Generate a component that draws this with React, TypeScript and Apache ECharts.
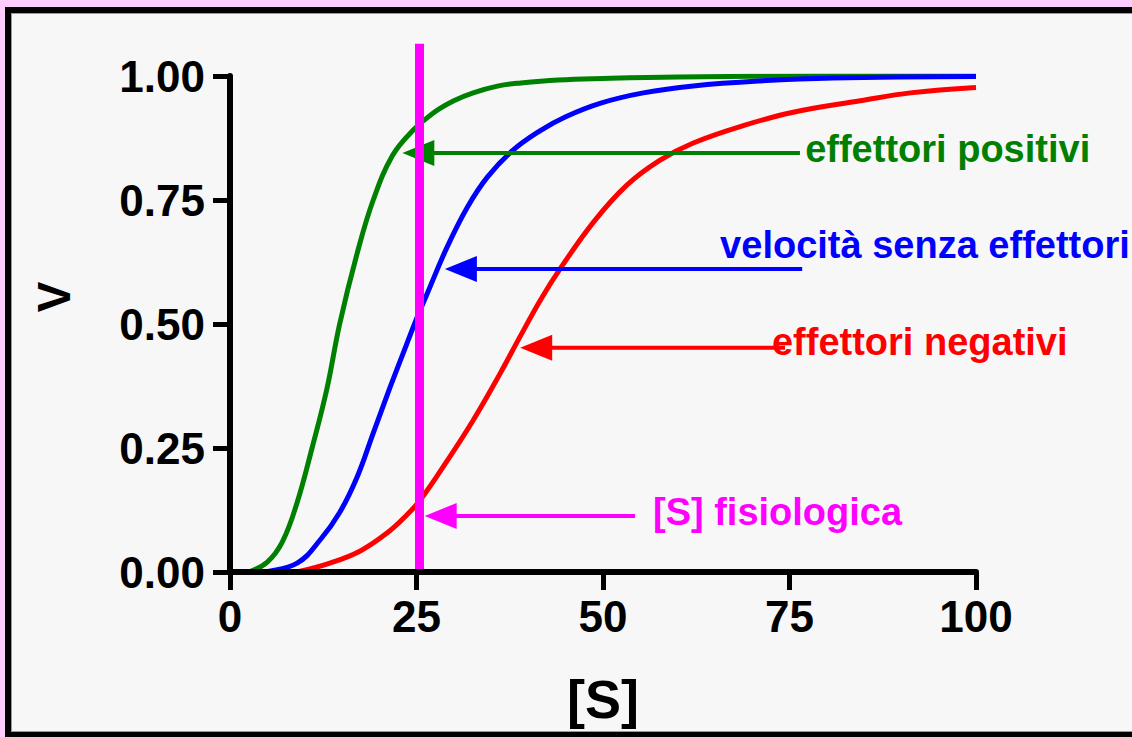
import React, { useEffect, useRef } from "react";
import * as echarts from "echarts";

// ---- data ----
const xTicks = [0, 25, 50, 75, 100];
const yTicks = [0, 0.25, 0.5, 0.75, 1];

const greenX = [2.5, 5, 7, 9, 11, 13, 14.7, 17, 19.2, 21.8, 24.5, 27.2, 30, 32.6, 36, 39, 44, 50, 60, 80, 100];
const greenY = [0, 0.02, 0.06, 0.14, 0.25, 0.37, 0.5, 0.64, 0.75, 0.84, 0.89, 0.925, 0.95, 0.966, 0.98, 0.986, 0.992, 0.995, 0.998, 1.0, 1.0];

const blueX = [4.5, 9, 12.1, 14.7, 17, 19.2, 21.4, 23.7, 25, 26.4, 29.1, 31.8, 34.5, 37.9, 41.6, 45, 49.6, 55.4, 62.1, 71, 80.8, 100];
const blueY = [0, 0.018, 0.065, 0.12, 0.19, 0.28, 0.37, 0.46, 0.51, 0.56, 0.655, 0.735, 0.796, 0.85, 0.89, 0.918, 0.945, 0.966, 0.98, 0.99, 0.996, 0.999];

const redX = [9, 13.4, 17.4, 21, 23.7, 25.5, 29.1, 32.6, 36.2, 38.9, 41.6, 44.2, 48.7, 53.2, 57.6, 62.1, 68.8, 75.5, 84.5, 91.2, 100];
const redY = [0, 0.018, 0.042, 0.078, 0.115, 0.145, 0.224, 0.306, 0.4, 0.475, 0.548, 0.61, 0.705, 0.78, 0.83, 0.865, 0.9, 0.927, 0.95, 0.966, 0.977];

const physioS = 25.4;
const physioLineY = [0, 1.065];

const annotLabels = ["effettori positivi", "velocità senza effettori", "effettori negativi", "[S] fisiologica"];
const annotColors = ["#008000", "#0000ff", "#ff0000", "#ff00ff"];
const arrowY = [0.845, 0.611, 0.452, 0.113];
const arrowTipX = [23.1, 28.8, 38.9, 26.1];
const arrowTailX = [76.4, 76.7, 74.4, 54.3];
const labelX = [77.1, 65.7, 72.65, 56.7];
const labelY = [0.853, 0.659, 0.464, 0.121];

const zip = (xs: number[], ys: number[]) => xs.map((x, i) => [x, ys[i]]);

export default function App() {
  const ref = useRef<HTMLDivElement>(null);
  useEffect(() => {
    const chart = echarts.init(ref.current!, null, { renderer: "svg" });
    const font = "'Liberation Sans', Arial, Helvetica, sans-serif";
    const curve = (name: string, data: number[][], color: string) => ({
      name,
      type: "line",
      data,
      smooth: 0.4,
      showSymbol: false,
      symbol: "none",
      lineStyle: { color, width: 5 },
      z: 2,
    });
    chart.setOption({
      animation: false,
      backgroundColor: "#f7f7f7",
      grid: { left: 230, right: 156, top: 76, bottom: 165, containLabel: false },
      xAxis: {
        type: "value",
        min: xTicks[0],
        max: xTicks[xTicks.length - 1],
        interval: xTicks[1] - xTicks[0],
        z: 10,
        name: "[S]",
        nameLocation: "middle",
        nameGap: 100,
        nameTextStyle: { fontFamily: font, fontWeight: "bold", fontSize: 54, color: "#000" },
        axisLine: { lineStyle: { color: "#000", width: 6 } },
        axisTick: { length: 18, lineStyle: { color: "#000", width: 5 } },
        axisLabel: { margin: 22, fontFamily: font, fontWeight: "bold", fontSize: 44, color: "#000" },
        splitLine: { show: false },
      },
      yAxis: {
        type: "value",
        min: yTicks[0],
        max: yTicks[yTicks.length - 1],
        interval: yTicks[1] - yTicks[0],
        z: 10,
        axisLine: { show: true, lineStyle: { color: "#000", width: 6 } },
        axisTick: { show: true, length: 17, lineStyle: { color: "#000", width: 5 } },
        axisLabel: {
          margin: 25,
          fontFamily: font,
          fontWeight: "bold",
          fontSize: 44,
          color: "#000",
          formatter: (v: number) => v.toFixed(2),
        },
        splitLine: { show: false },
      },
      series: [
        curve("effettori positivi", zip(greenX, greenY), "#008000"),
        curve("velocità senza effettori", zip(blueX, blueY), "#0000ff"),
        curve("effettori negativi", zip(redX, redY), "#ff0000"),
        {
          name: "[S] fisiologica",
          type: "line",
          data: physioLineY.map((y) => [physioS, y]),
          clip: false,
          showSymbol: false,
          symbol: "none",
          lineStyle: { color: "#ff00ff", width: 9, cap: "butt" },
          z: 5,
        },
      ],
    });

    const graphics: any[] = [];
    for (let i = 0; i < annotLabels.length; i++) {
      const tip = chart.convertToPixel({ gridIndex: 0 }, [arrowTipX[i], arrowY[i]]) as number[];
      const tail = chart.convertToPixel({ gridIndex: 0 }, [arrowTailX[i], arrowY[i]]) as number[];
      const lab = chart.convertToPixel({ gridIndex: 0 }, [labelX[i], labelY[i]]) as number[];
      const c = annotColors[i];
      graphics.push({
        type: "line",
        z: 3,
        shape: { x1: tip[0] + 25, y1: tip[1], x2: tail[0], y2: tail[1] },
        style: { stroke: c, lineWidth: 4 },
      });
      graphics.push({
        type: "polygon",
        z: 3,
        shape: { points: [[tip[0], tip[1]], [tip[0] + 32, tip[1] - 13], [tip[0] + 32, tip[1] + 13]] },
        style: { fill: c },
      });
      graphics.push({
        type: "text",
        z: 4,
        x: lab[0],
        y: lab[1],
        style: {
          text: annotLabels[i],
          fill: c,
          font: `bold 38px ${font}`,
          textAlign: "left",
          textVerticalAlign: "middle",
        },
      });
    }
    // y axis title
    graphics.push({
      type: "text",
      z: 4,
      x: 54,
      y: 297,
      rotation: Math.PI / 2,
      style: {
        text: "V",
        fill: "#000",
        font: `bold 46px ${font}`,
        textAlign: "center",
        textVerticalAlign: "middle",
      },
    });
    // frame
    const W = 1132;
    const H = 737;
    graphics.push(
      { type: "rect", z: 100, shape: { x: 0, y: 0, width: W, height: 7 }, style: { fill: "#ffccff" } },
      { type: "rect", z: 100, shape: { x: 0, y: 0, width: 5, height: H }, style: { fill: "#ffccff" } },
      { type: "rect", z: 100, shape: { x: 5, y: 7, width: W, height: 6 }, style: { fill: "#000" } },
      { type: "rect", z: 100, shape: { x: 5, y: 7, width: 6, height: H }, style: { fill: "#000" } },
      { type: "rect", z: 100, shape: { x: 5, y: 732, width: W, height: 6 }, style: { fill: "#000" } },
      { type: "rect", z: 100, shape: { x: 11, y: 13, width: W, height: 1 }, style: { fill: "#999" } },
      { type: "rect", z: 100, shape: { x: 11, y: 13, width: 1, height: 719 }, style: { fill: "#999" } },
      { type: "rect", z: 100, shape: { x: 11, y: 731, width: W, height: 1 }, style: { fill: "#999" } }
    );
    chart.setOption({ graphic: graphics });
    return () => chart.dispose();
  }, []);
  return <div ref={ref} style={{ position: "fixed", left: 0, top: 0, width: 1132, height: 737 }} />;
}
